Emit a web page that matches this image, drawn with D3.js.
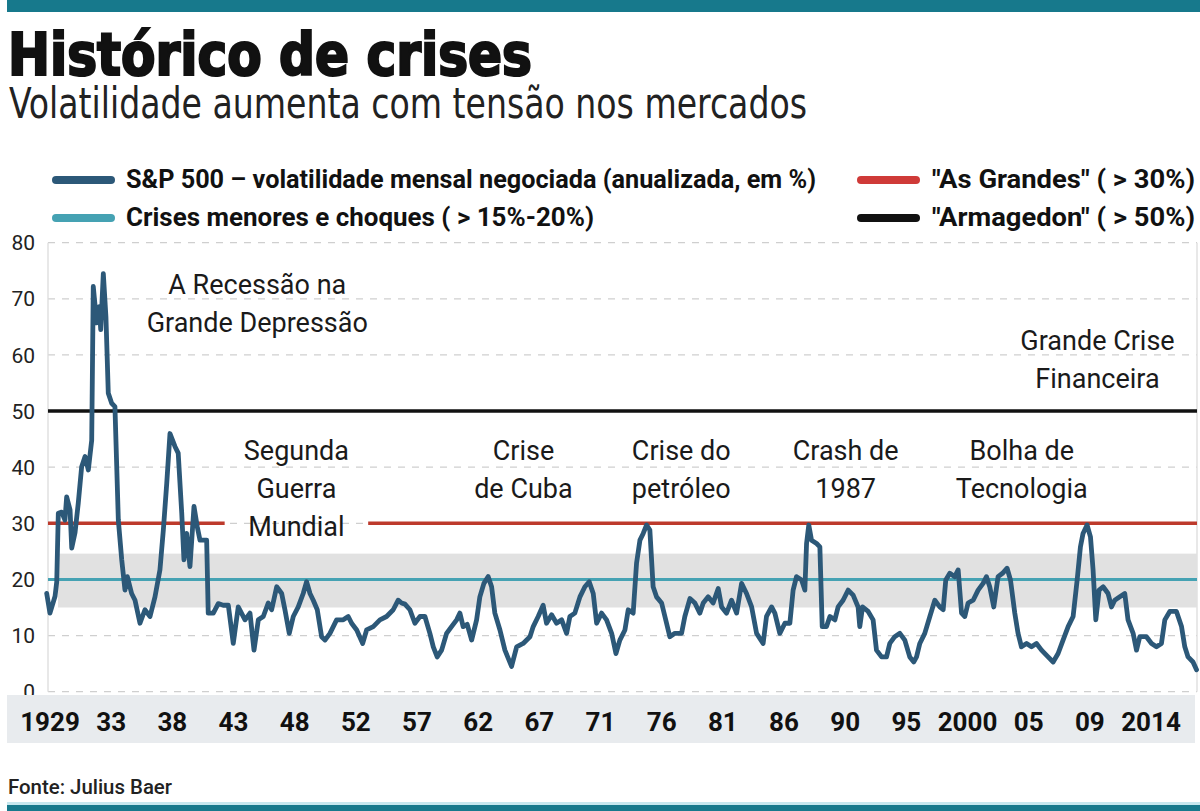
<!DOCTYPE html>
<html>
<head>
<meta charset="utf-8">
<script src="https://cdn.jsdelivr.net/npm/d3@7/dist/d3.min.js"></script>
<style>
body { margin: 0; background: #fff; }
svg { display: block; }
</style>
</head>
<body>
<svg id="chart" width="1200" height="811"></svg>
<script>
// S&P 500 monthly realised volatility (annualised, %)
var years = [
  1929.36, 1929.61, 1930.00, 1930.13, 1930.25, 1930.51, 1930.76, 1930.89, 1931.15, 1931.28,
  1931.53, 1931.78, 1932.04, 1932.30, 1932.55, 1932.81, 1932.93, 1933.19, 1933.39, 1933.50,
  1933.70, 1933.90, 1934.08, 1934.34, 1934.59, 1934.85, 1935.11, 1935.36, 1935.54, 1935.87,
  1936.13, 1936.51, 1936.89, 1937.28, 1937.66, 1938.04, 1938.30, 1938.56, 1938.81, 1939.19,
  1939.44, 1939.71, 1939.88, 1940.09, 1940.34, 1940.65, 1940.90, 1941.11, 1941.62, 1941.74,
  1942.13, 1942.51, 1942.89, 1943.28, 1943.66, 1944.04, 1944.56, 1944.94, 1945.25, 1945.58,
  1945.96, 1946.34, 1946.60, 1946.99, 1947.37, 1947.62, 1947.95, 1948.26, 1948.64, 1949.02,
  1949.28, 1949.54, 1949.79, 1950.10, 1950.43, 1950.69, 1951.07, 1951.58, 1952.09, 1952.47,
  1952.73, 1953.12, 1953.58, 1953.88, 1954.39, 1954.90, 1955.41, 1955.92, 1956.30, 1956.56,
  1956.82, 1957.20, 1957.58, 1957.97, 1958.35, 1958.73, 1958.99, 1959.29, 1959.63, 1960.01,
  1960.39, 1960.78, 1961.03, 1961.28, 1961.59, 1961.93, 1962.31, 1962.56, 1962.87, 1963.20,
  1963.46, 1963.71, 1964.10, 1964.48, 1964.99, 1965.38, 1965.88, 1966.40, 1966.65, 1967.03,
  1967.41, 1967.67, 1968.06, 1968.44, 1968.83, 1969.21, 1969.46, 1969.84, 1970.23, 1970.61,
  1970.94, 1971.25, 1971.51, 1971.89, 1972.27, 1972.66, 1972.99, 1973.29, 1973.68, 1973.93,
  1974.31, 1974.57, 1974.83, 1975.08, 1975.34, 1975.59, 1975.84, 1976.10, 1976.49, 1976.87,
  1977.12, 1977.51, 1978.02, 1978.27, 1978.66, 1979.04, 1979.42, 1979.68, 1980.06, 1980.44,
  1980.83, 1981.09, 1981.47, 1981.85, 1982.24, 1982.62, 1983.00, 1983.39, 1983.77, 1984.27,
  1984.53, 1984.92, 1985.17, 1985.55, 1985.94, 1986.32, 1986.57, 1986.83, 1987.22, 1987.47,
  1987.60, 1987.77, 1987.98, 1988.37, 1988.62, 1988.80, 1989.13, 1989.39, 1989.77, 1990.02,
  1990.40, 1990.79, 1991.17, 1991.55, 1991.68, 1991.89, 1992.32, 1992.70, 1992.96, 1993.35,
  1993.73, 1993.98, 1994.36, 1994.75, 1995.13, 1995.51, 1995.82, 1996.03, 1996.28, 1996.66,
  1997.05, 1997.43, 1997.81, 1998.07, 1998.27, 1998.58, 1998.96, 1999.22, 1999.48, 1999.73,
  1999.98, 2000.37, 2000.75, 2001.13, 2001.39, 2001.64, 2001.95, 2002.28, 2002.62, 2002.97,
  2003.23, 2003.56, 2003.81, 2004.07, 2004.46, 2004.84, 2005.22, 2005.61, 2006.11, 2006.50,
  2006.88, 2007.26, 2007.65, 2008.03, 2008.34, 2008.59, 2008.79, 2009.10, 2009.36, 2009.56,
  2009.77, 2010.02, 2010.33, 2010.71, 2010.97, 2011.22, 2011.61, 2011.99, 2012.24, 2012.63,
  2012.89, 2013.14, 2013.65, 2014.04, 2014.42, 2014.80, 2015.06, 2015.44, 2015.95, 2016.34,
  2016.59, 2016.84, 2017.22, 2017.49
];
var vol = [
  17.5, 14, 17, 19.6, 31.8, 32, 30.6, 34.7, 32.4, 25.6,
  28.3, 33.6, 40.1, 41.9, 39.5, 44.8, 72.2, 65.7, 68.6, 64.5,
  74.5, 66.8, 53.2, 51.4, 50.8, 30.6, 23.5, 18.1, 20.5, 17.5,
  16.3, 12.2, 14.6, 13.4, 16.9, 21.7, 28.8, 37.1, 46, 43.7,
  42.5, 31.8, 23.5, 28.2, 22.3, 33, 29.4, 27, 27, 14,
  14, 15.7, 15.4, 15.4, 8.6, 15.1, 12.8, 14, 7.4, 12.8,
  13.4, 15.8, 14.6, 18.7, 17.5, 14.6, 10.4, 13.4, 15.1, 17.5,
  19.6, 17.5, 16.3, 14.6, 9.8, 9.2, 10.4, 12.8, 12.8, 13.4,
  12.2, 11, 8.6, 11, 11.6, 12.8, 13.4, 14.6, 16.3, 15.8,
  15.6, 14.6, 12.2, 13.4, 13.4, 10.4, 8, 6.2, 7.4, 10.4,
  11.6, 12.8, 14, 11.6, 12, 9.2, 12.8, 16.9, 19.3, 20.5,
  18.7, 14, 11, 7.4, 4.5, 8, 8.6, 9.8, 11.6, 13.4,
  15.4, 12.2, 13.7, 12.2, 12.8, 10.4, 13.4, 14, 16.9, 18.7,
  19.6, 17.5, 12.2, 14, 12.8, 10.4, 6.8, 9.2, 11, 14.6,
  14, 22.9, 27, 28.2, 29.7, 28.8, 18.7, 16.9, 15.8, 12.2,
  9.8, 10.4, 10.4, 13.4, 16.6, 15.8, 14, 15.8, 16.9, 15.8,
  18.4, 15.1, 14, 16.3, 14, 19.3, 17.5, 15.1, 10.4, 8.6,
  13.4, 15.1, 14, 10.4, 12.2, 12.2, 18.1, 20.5, 19.9, 18.1,
  26.4, 29.7, 27, 26.4, 25.8, 11.6, 11.6, 13.4, 12.8, 15.1,
  16.3, 18.1, 17.2, 15.1, 11.6, 15.1, 14.3, 12.8, 7.4, 6.2,
  6.2, 8.6, 9.8, 10.4, 9.2, 6.2, 5.3, 6.2, 8.6, 10.4,
  13.4, 16.3, 15.1, 14.6, 19.9, 21.1, 20.5, 21.7, 14, 13.4,
  15.8, 16.3, 18.1, 19.3, 20.5, 18.7, 15.1, 20.5, 21.1, 22,
  19.9, 14, 10.4, 8, 8.6, 8, 8.6, 7.4, 6.2, 5.3,
  6.8, 9.2, 11.6, 13.4, 19.9, 25.8, 28.2, 29.7, 27.6, 21.7,
  12.8, 18.1, 18.7, 17.5, 15.1, 16.3, 16.9, 17.5, 12.8, 10.4,
  7.4, 9.8, 9.8, 8.6, 8, 8.6, 12.8, 14.3, 14.3, 11.6,
  8, 6.2, 5.3, 3.9
];

var yTicks = [0, 10, 20, 30, 40, 50, 60, 70, 80];
var xLabels = ["1929", "33", "38", "43", "48", "52", "57", "62", "67", "71",
               "76", "81", "86", "90", "95", "2000", "05", "09", "2014"];

// reference levels
var minorLevel = 20;          // crises menores e choques
var minorBand = [15, 24.6];   // shaded zone round it
var bigLevel = 30;            // "As Grandes"
var bigGap = [1943, 1954];    // red line interrupted behind the WWII label
var armageddonLevel = 50;

var legendLabels = [
  "S&P 500 – volatilidade mensal negociada (anualizada, em %)",
  "Crises menores e choques ( > 15%-20%)",
  "\"As Grandes\" ( > 30%)",
  "\"Armagedon\" ( > 50%)"
];

var notes = [
  {year: 1945.5, v: 70.9, lines: ["A Recessão na", "Grande Depressão"]},
  {year: 1948.5, v: 41.3, lines: ["Segunda", "Guerra", "Mundial"]},
  {year: 1965.9, v: 41.3, lines: ["Crise", "de Cuba"]},
  {year: 1978.0, v: 41.3, lines: ["Crise do", "petróleo"]},
  {year: 1990.6, v: 41.3, lines: ["Crash de", "1987"]},
  {year: 2004.1, v: 41.3, lines: ["Bolha de", "Tecnologia"]},
  {year: 2009.9, v: 60.9, lines: ["Grande Crise", "Financeira"]}
];

var C = {
  bar: "#17798c", line: "#2c5878", teal: "#45a2b3", red: "#bd3a2c",
  redKey: "#cf3a38", black: "#111", band: "#e1e1e1", grid: "#cfcfcf", axisBand: "#e8ebee"
};
var narrow = "'Liberation Sans Narrow','DejaVu Sans Condensed','Roboto Condensed',Arial,sans-serif";
var sans = "Roboto,'Open Sans',Arial,sans-serif";

var plotL = 48, plotR = 1197;
var x = d3.scaleLinear().domain([1929, 2014]).range([42, 1151]);
var y = d3.scaleLinear().domain([0, 80]).range([691.7, 242.7]);
// the year labels sit evenly spaced under the strip
var xl = d3.scalePoint().domain(xLabels).range([50, 1151]);

var svg = d3.select("#chart");

// header
svg.append("rect").attr("x", 7).attr("y", 0).attr("width", 1193).attr("height", 12).attr("fill", C.bar);
svg.append("text").attr("x", 8).attr("y", 75)
  .attr("font-family", narrow).attr("font-weight", "bold").attr("font-size", 58)
  .attr("fill", "#111").attr("stroke", "#111").attr("stroke-width", 2.2)
  .attr("textLength", 524).attr("lengthAdjust", "spacingAndGlyphs")
  .text("Histórico de crises");
svg.append("text").attr("x", 9).attr("y", 118)
  .attr("font-family", narrow).attr("font-size", 42).attr("fill", "#222")
  .attr("textLength", 798).attr("lengthAdjust", "spacingAndGlyphs")
  .text("Volatilidade aumenta com tensão nos mercados");

// legend: [swatch x, row y, text x, text length]
var legendPos = [[52, 180, 126, 690], [52, 218, 126, 468], [857, 180, 932, 263], [857, 218, 932, 263]];
var legendCol = [C.line, C.teal, C.redKey, C.black];
var lg = svg.append("g").selectAll("g").data(legendLabels).enter().append("g");
lg.append("line")
  .attr("x1", function(d, i) { return legendPos[i][0] + 4; })
  .attr("x2", function(d, i) { return legendPos[i][0] + 59; })
  .attr("y1", function(d, i) { return legendPos[i][1]; })
  .attr("y2", function(d, i) { return legendPos[i][1]; })
  .attr("stroke", function(d, i) { return legendCol[i]; })
  .attr("stroke-width", 8).attr("stroke-linecap", "round");
lg.append("text")
  .attr("x", function(d, i) { return legendPos[i][2]; })
  .attr("y", function(d, i) { return legendPos[i][1] + 8; })
  .attr("textLength", function(d, i) { return legendPos[i][3]; })
  .attr("lengthAdjust", "spacingAndGlyphs")
  .attr("font-family", sans).attr("font-weight", "bold").attr("font-size", 26).attr("fill", "#111")
  .text(function(d) { return d; });

// grid
svg.append("g").selectAll("line").data(yTicks).enter().append("line")
  .attr("x1", plotL).attr("x2", plotR)
  .attr("y1", function(d) { return y(d); }).attr("y2", function(d) { return y(d); })
  .attr("stroke", C.grid).attr("stroke-width", 1.3).attr("stroke-dasharray", "7,7");
svg.append("g").selectAll("line").data([plotL, plotR]).enter().append("line")
  .attr("x1", function(d) { return d; }).attr("x2", function(d) { return d; })
  .attr("y1", y(80)).attr("y2", y(0))
  .attr("stroke", "#dcdcdc").attr("stroke-width", 1.3);

// minor-crisis band and reference lines
svg.append("rect").attr("x", 58).attr("width", plotR - 58)
  .attr("y", y(minorBand[1])).attr("height", y(minorBand[0]) - y(minorBand[1]))
  .attr("fill", C.band);
svg.append("line").attr("x1", plotL).attr("x2", plotR)
  .attr("y1", y(minorLevel)).attr("y2", y(minorLevel))
  .attr("stroke", C.teal).attr("stroke-width", 3);
svg.append("g").selectAll("line").data([[plotL, x(bigGap[0])], [x(bigGap[1]), plotR]]).enter().append("line")
  .attr("x1", function(d) { return d[0]; }).attr("x2", function(d) { return d[1]; })
  .attr("y1", y(bigLevel)).attr("y2", y(bigLevel))
  .attr("stroke", C.red).attr("stroke-width", 3.5);
svg.append("line").attr("x1", plotL).attr("x2", plotR)
  .attr("y1", y(armageddonLevel)).attr("y2", y(armageddonLevel))
  .attr("stroke", C.black).attr("stroke-width", 3.5);

// volatility series
var line = d3.line()
  .x(function(d, i) { return x(years[i]); })
  .y(function(d) { return y(d); });
svg.append("path").datum(vol)
  .attr("d", line).attr("fill", "none")
  .attr("stroke", C.line).attr("stroke-width", 4.8)
  .attr("stroke-linejoin", "round").attr("stroke-linecap", "round");

// annotations
var ng = svg.append("g").selectAll("text").data(notes).enter().append("text")
  .attr("text-anchor", "middle")
  .attr("font-family", sans).attr("font-size", 27).attr("fill", "#1a1a1a");
ng.each(function(d) {
  var t = d3.select(this);
  d.lines.forEach(function(s, k) {
    t.append("tspan").attr("x", x(d.year)).attr("y", y(d.v) + k * 38).text(s);
  });
});

// y axis labels
svg.append("g").selectAll("text").data(yTicks).enter().append("text")
  .attr("x", 35).attr("y", function(d) { return y(d); }).attr("dy", "0.36em")
  .attr("text-anchor", "end")
  .attr("font-family", sans).attr("font-size", 21).attr("fill", "#222")
  .text(function(d) { return d; });

// x axis strip
svg.append("rect").attr("x", 7).attr("y", 695).attr("width", 1188).attr("height", 48).attr("fill", C.axisBand);
svg.append("g").selectAll("text").data(xLabels).enter().append("text")
  .attr("x", function(d) { return xl(d); }).attr("y", 731)
  .attr("text-anchor", "middle")
  .attr("font-family", sans).attr("font-weight", "bold").attr("font-size", 26).attr("fill", "#111")
  .text(function(d) { return d; });

// footer
svg.append("text").attr("x", 8).attr("y", 794)
  .attr("font-family", sans).attr("font-weight", "500").attr("font-size", 21).attr("fill", "#222")
  .attr("textLength", 164).attr("lengthAdjust", "spacingAndGlyphs")
  .text("Fonte: Julius Baer");
svg.append("rect").attr("x", 7).attr("y", 802).attr("width", 1193).attr("height", 3).attr("fill", "#c6e7ee");
svg.append("rect").attr("x", 7).attr("y", 805).attr("width", 1193).attr("height", 6).attr("fill", C.bar);
</script>
</body>
</html>
